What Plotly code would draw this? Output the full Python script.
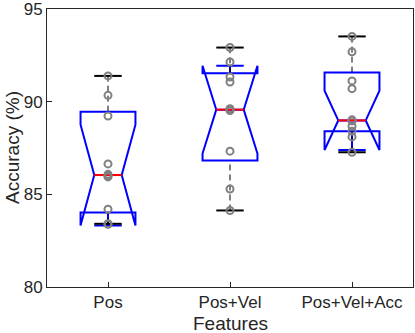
import plotly.graph_objects as go

# ---- data ----
categories = ["Pos", "Pos+Vel", "Pos+Vel+Acc"]
positions = [1, 2, 3]

pos_points = [91.39, 90.34, 89.22, 86.64, 86.08, 86.0, 85.94, 84.2, 83.41, 83.38]
posvel_points = [92.92, 92.14, 91.33, 91.06, 89.62, 89.57, 89.52, 87.33, 85.29, 84.13]
posvelacc_points = [93.52, 92.69, 91.12, 90.70, 89.02, 88.96, 88.68, 88.41, 88.10, 87.27]

q1 = [84.02, 86.82, 88.41]
median = [86.04, 89.57, 88.99]
q3 = [89.46, 91.53, 91.57]
lower_whisker = [83.41, 84.13, 87.27]
upper_whisker = [91.39, 92.92, 93.52]
notch_span = [2.72, 2.37, 1.6]

y_ticks = [80, 85, 90, 95]

# ---- styling ----
box_width = 0.45
cap_half = box_width / 4
med_half = box_width / 4
axis_color = "#262626"
font_family = "Liberation Sans, Arial, Helvetica, sans-serif"

fig = go.Figure()

# notched boxes (whiskers collapsed, drawn separately MATLAB-style)
fig.add_trace(go.Box(
    x=positions,
    q1=q1, median=median, q3=q3,
    lowerfence=q1, upperfence=q3,
    notchspan=notch_span,
    notched=True, notchwidth=0.25,
    width=box_width,
    line=dict(color="#0000ff", width=2),
    fillcolor="rgba(0,0,0,0)",
    boxpoints=False,
    hoverinfo="skip",
    showlegend=False,
))

# dashed whiskers
wx, wy = [], []
for p, a, b, c, d in zip(positions, lower_whisker, q1, q3, upper_whisker):
    wx += [p, p, None, p, p, None]
    wy += [a, b, None, c, d, None]
fig.add_trace(go.Scatter(x=wx, y=wy, mode="lines",
                         line=dict(color="#000000", width=1, dash="6px,4px"),
                         hoverinfo="skip", showlegend=False))

# whisker caps
cx, cy = [], []
for p, a, d in zip(positions, lower_whisker, upper_whisker):
    cx += [p - cap_half, p + cap_half, None, p - cap_half, p + cap_half, None]
    cy += [a, a, None, d, d, None]
fig.add_trace(go.Scatter(x=cx, y=cy, mode="lines",
                         line=dict(color="#000000", width=2),
                         hoverinfo="skip", showlegend=False))

# red medians
mx, my = [], []
for p, m in zip(positions, median):
    mx += [p - med_half, p + med_half, None]
    my += [m, m, None]
fig.add_trace(go.Scatter(x=mx, y=my, mode="lines",
                         line=dict(color="#ff0000", width=2),
                         hoverinfo="skip", showlegend=False))

# data points
for p, vals in zip(positions, [pos_points, posvel_points, posvelacc_points]):
    fig.add_trace(go.Scatter(
        x=[p] * len(vals), y=vals, mode="markers",
        marker=dict(symbol="circle-open", size=7, color="#808080",
                    line=dict(width=2, color="#808080")),
        hoverinfo="skip", showlegend=False))

fig.update_layout(
    width=415, height=333,
    margin=dict(l=47, r=2, t=9, b=46),
    paper_bgcolor="white", plot_bgcolor="white",
    font=dict(family=font_family, color=axis_color, size=17),
    annotations=[
        dict(text="Accuracy (%)", textangle=-90, xref="paper", yref="paper",
             x=0, y=0.5, xshift=-35, xanchor="center", yanchor="middle",
             showarrow=False, font=dict(size=19, color=axis_color)),
        dict(text="Features", xref="paper", yref="paper",
             x=0.5, y=0, yshift=-36, xanchor="center", yanchor="middle",
             showarrow=False, font=dict(size=19, color=axis_color)),
    ],
)
fig.update_xaxes(
    range=[0.5, 3.5], tickvals=positions, ticktext=categories,
    ticks="inside", ticklen=5, tickwidth=1, tickcolor=axis_color,
    showline=True, linecolor=axis_color, linewidth=1, mirror=True,
    showgrid=False, zeroline=False, automargin=False,
    ticklabeloverflow="allow", tickfont=dict(size=17),
)
fig.update_yaxes(
    range=[80, 95], tickvals=y_ticks,
    ticks="inside", ticklen=5, tickwidth=1, tickcolor=axis_color,
    showline=True, linecolor=axis_color, linewidth=1, mirror=True,
    showgrid=False, zeroline=False, automargin=False,
    ticklabeloverflow="allow", tickfont=dict(size=17),
)

fig.write_html(
    "out.html",
    config={"displayModeBar": False},
    post_script="document.body.style.margin='0';document.body.style.overflow='hidden';",
)
